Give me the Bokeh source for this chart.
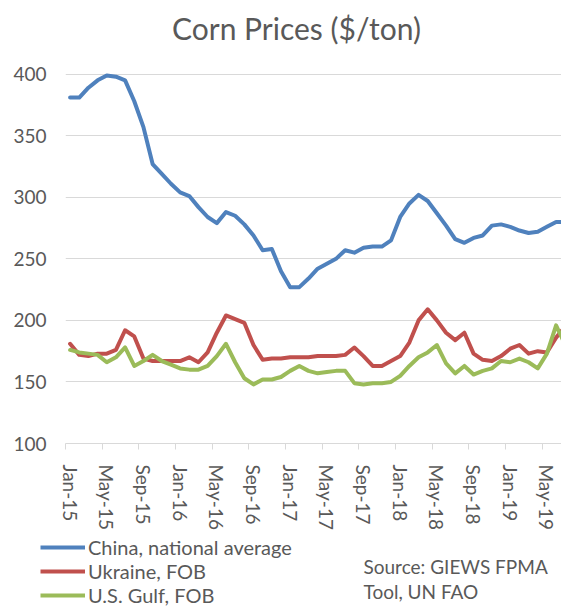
import pandas as pd
from bokeh.plotting import figure
from bokeh.layouts import column
from bokeh.models import FixedTicker, Label, Legend, LegendItem, Range1d
from bokeh.embed import file_html
from bokeh.resources import INLINE

# ---------------- data ----------------
months = pd.date_range("2015-01-01", periods=55, freq="MS").strftime("%b-%y").tolist()

china = [381, 381, 389, 395, 399, 398, 395, 378, 357, 327, 319, 311, 304, 301, 292,
         284, 279, 288, 285, 278, 269, 257, 258, 240, 227, 227, 234, 242, 246, 250,
         257, 255, 259, 260, 260, 265, 284, 295, 302, 297, 287, 277, 266, 263, 267,
         269, 277, 278, 276, 273, 271, 272, 276, 280, 280]
ukraine = [181, 172, 171, 173, 173, 176, 192, 187, 169, 167, 167, 167, 167, 170, 166,
           174, 190, 204, 201, 198, 180, 168, 169, 169, 170, 170, 170, 171, 171, 171,
           172, 178, 171, 163, 163, 167, 171, 182, 200, 209, 200, 190, 184, 190, 173,
           168, 167, 171, 177, 180, 173, 175, 174, 186, 195]
usgulf = [176, 174, 173, 172, 166, 170, 178, 163, 167, 172, 167, 164, 161, 160, 160,
          163, 171, 181, 166, 153, 148, 152, 152, 154, 159, 163, 159, 157, 158, 159,
          159, 149, 148, 149, 149, 150, 155, 163, 170, 174, 180, 165, 157, 163, 156,
          159, 161, 167, 166, 169, 166, 161, 173, 196, 180]

tick_labels = ["Jan-15", "May-15", "Sep-15", "Jan-16", "May-16", "Sep-16", "Jan-17",
               "May-17", "Sep-17", "Jan-18", "May-18", "Sep-18", "Jan-19", "May-19"]
y_ticks = [100, 150, 200, 250, 300, 350, 400]

series = [china, ukraine, usgulf]
series_names = ["China, national average", "Ukraine, FOB", "U.S. Gulf, FOB"]
series_colors = ["#4f81bd", "#c0504d", "#9bbb59"]

title_text = "Corn Prices ($/ton)"
source_lines = ["Source: GIEWS FPMA", "Tool, UN FAO"]

# ---------------- style ----------------
FONT = "Lato"
TXT = "#595959"
GRID = "#d9d9d9"
W = 561


def blank(height):
    f = figure(width=W, height=height, output_backend="svg", toolbar_location=None,
               x_axis_type=None, y_axis_type=None,
               x_range=Range1d(0, W), y_range=Range1d(0, height),
               min_border_left=0, min_border_right=0, min_border_top=0,
               min_border_bottom=0, outline_line_color=None)
    f.grid.visible = False
    f.frame_align = False
    return f


# ---------------- title strip ----------------
ptitle = blank(50)
ptitle.add_layout(Label(x=296, y=23, text=title_text, text_align="center",
                        text_baseline="middle", text_font=FONT,
                        text_font_size="30px", text_color=TXT))

# ---------------- main chart ----------------
x = list(range(len(months)))

p = figure(width=W, height=483, output_backend="svg", toolbar_location=None,
           x_range=Range1d(-0.5, 53.59), y_range=Range1d(100, 403),
           min_border_left=65, min_border_right=0, min_border_top=20,
           min_border_bottom=90, outline_line_color=None)

for vals, col in zip(series, series_colors):
    p.line(x, vals, line_color=col, line_width=4, line_join="round", line_cap="round")

tick_pos = [months.index(t) for t in tick_labels]
xa = p.xaxis[0]
xa.ticker = FixedTicker(ticks=tick_pos, minor_ticks=[t - 0.5 for t in tick_pos])
xa.major_label_overrides = {t: lab for t, lab in zip(tick_pos, tick_labels)}
xa.major_label_orientation = "vertical"
xa.major_tick_out = 0
xa.major_tick_in = 0
xa.minor_tick_out = 6
xa.minor_tick_in = 0
xa.minor_tick_line_color = GRID
xa.axis_line_color = GRID
xa.major_label_standoff = 15
xa.major_label_text_font = FONT
xa.major_label_text_font_size = "19px"
xa.major_label_text_color = TXT

ya = p.yaxis[0]
ya.ticker = FixedTicker(ticks=y_ticks)
ya.axis_line_color = None
ya.major_tick_line_color = None
ya.minor_tick_line_color = None
ya.major_tick_out = 0
ya.major_label_standoff = 19
ya.major_label_text_font = FONT
ya.major_label_text_font_size = "19px"
ya.major_label_text_color = TXT

p.xgrid.grid_line_color = None
p.ygrid.grid_line_color = GRID
p.ygrid.grid_line_width = 1
p.ygrid.ticker = FixedTicker(ticks=y_ticks)

# ---------------- legend + source strip ----------------
pbot = blank(73)
# key renderers reuse the series (their values lie outside this strip's range)
key_renderers = [pbot.line(x, vals, line_color=c, line_width=4)
                 for vals, c in zip(series, series_colors)]
legend = Legend(items=[LegendItem(label=n, renderers=[r]) for n, r in zip(series_names, key_renderers)],
                location=(40, -1), orientation="vertical", glyph_width=45,
                glyph_height=20, label_height=20, label_standoff=3, spacing=0,
                padding=0, margin=0, label_text_font=FONT, label_text_font_size="20px",
                label_text_color=TXT, border_line_alpha=0, background_fill_alpha=0)
pbot.add_layout(legend)

for k, line in enumerate(source_lines):
    pbot.add_layout(Label(x=363, y=40 - 25 * k, text=line, text_align="left",
                          text_baseline="middle", text_font=FONT,
                          text_font_size="19px", text_color=TXT))

layout = column(ptitle, p, pbot, spacing=0)
open("out.html", "w").write(file_html(layout, INLINE))
